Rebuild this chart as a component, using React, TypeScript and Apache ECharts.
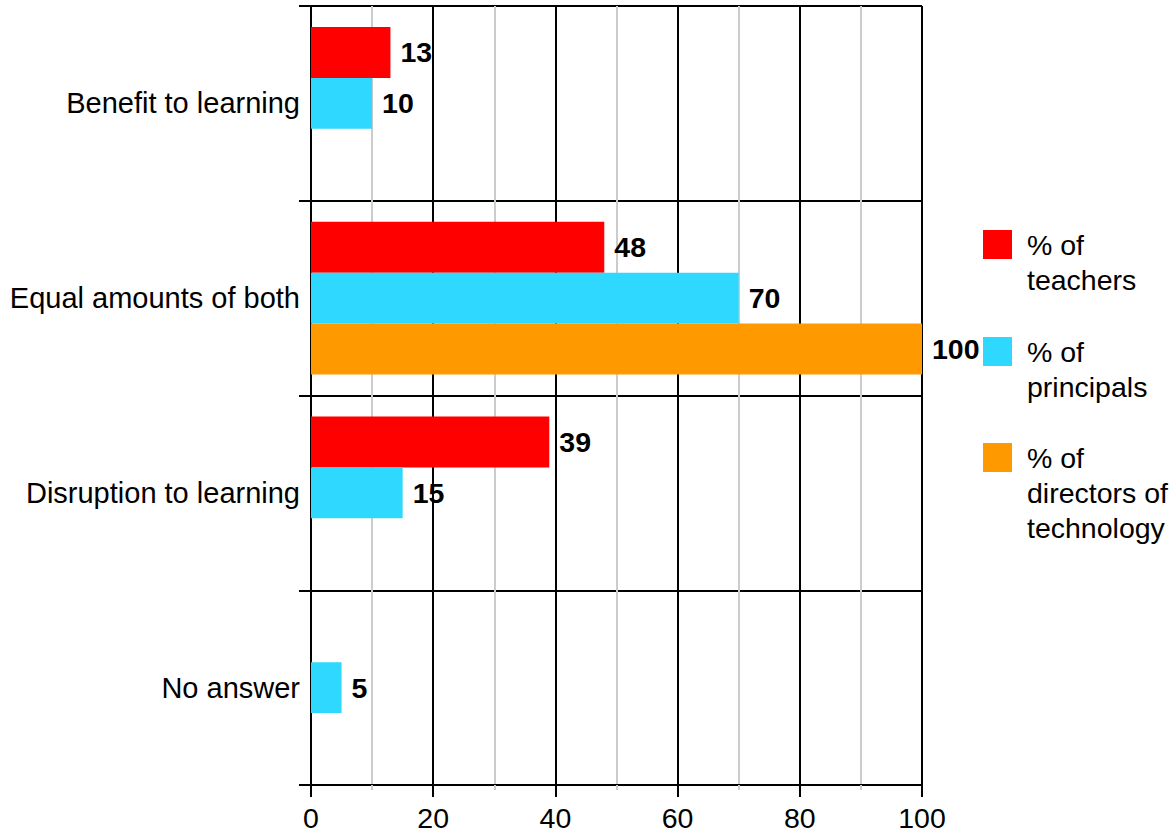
import React, { useEffect, useRef } from "react";
import * as echarts from "echarts";

const categories = ["Benefit to learning", "Equal amounts of both", "Disruption to learning", "No answer"];
const seriesNames = ["% of\nteachers", "% of\nprincipals", "% of\ndirectors of\ntechnology"];
const teachers: (number | null)[] = [13, 48, 39, null];
const principals: (number | null)[] = [10, 70, 15, 5];
const directors: (number | null)[] = [null, 100, null, null];
const colors = ["#ff0000", "#2ed8fe", "#ff9900"];

const FONT = "'Liberation Sans', Arial, sans-serif";

export default function App() {
  const ref = useRef<HTMLDivElement>(null);
  useEffect(() => {
    if (!ref.current) return;
    const chart = echarts.init(ref.current, null, { renderer: "svg" });
    const values = [teachers, principals, directors];
    const lh = 35;
    const legendTops = [192, 299, 370];
    const option: any = {
      animation: false,
      backgroundColor: "#ffffff",
      textStyle: { fontFamily: FONT },
      grid: { left: 311, right: 254, top: 6, bottom: 50, containLabel: false, outerBoundsMode: "none" },
      legend: seriesNames.map((n, i) => {
        const lines = n.split("\n").length;
        return {
          data: [n],
          orient: "vertical",
          left: 983,
          top: legendTops[i],
          padding: 0,
          itemWidth: 29,
          itemHeight: 29,
          icon: "rect",
          selectedMode: false,
          formatter: (name: string) => "\n".repeat(lines - 1) + name,
          textStyle: {
            fontFamily: FONT,
            fontSize: 28.5,
            color: "#000",
            lineHeight: lh,
            padding: [0, 0, 0, 10],
          },
        };
      }),
      xAxis: {
        type: "value",
        min: 0,
        max: 100,
        interval: 20,
        axisLine: { show: true, lineStyle: { color: "#000", width: 2 } },
        axisTick: { show: true, length: 12, lineStyle: { color: "#000", width: 2 } },
        minorTick: { show: true, splitNumber: 2, length: 5, lineStyle: { color: "#cccccc", width: 2 } },
        splitLine: { show: true, lineStyle: { color: "#000", width: 2 } },
        minorSplitLine: { show: true, lineStyle: { color: "#cccccc", width: 2 } },
        axisLabel: { fontFamily: FONT, fontSize: 28.5, color: "#000", margin: 18 },
      },
      yAxis: {
        type: "category",
        data: categories,
        inverse: true,
        axisLine: { show: true, lineStyle: { color: "#000", width: 2 } },
        axisTick: { show: true, length: 12, lineStyle: { color: "#000", width: 2 } },
        splitLine: { show: true, lineStyle: { color: "#000", width: 2 } },
        axisLabel: { fontFamily: FONT, fontSize: 29, color: "#000", margin: 11, padding: [5, 0, 0, 0] },
      },
      series: seriesNames.map((n, i) => ({
        name: n,
        type: "bar",
        data: values[i],
        barGap: "0%",
        barCategoryGap: "21.5%",
        itemStyle: { color: colors[i] },
        label: {
          show: true,
          position: "right",
          distance: 10,
          fontFamily: FONT,
          fontSize: 28.5,
          fontWeight: "bold",
          color: "#000",
          padding: [3, 0, 0, 0],
        },
      })),
    };
    chart.setOption(option);
    return () => chart.dispose();
  }, []);
  return (
    <div
      ref={ref}
      style={{ position: "fixed", left: 0, top: 0, width: 1176, height: 835 }}
    />
  );
}
